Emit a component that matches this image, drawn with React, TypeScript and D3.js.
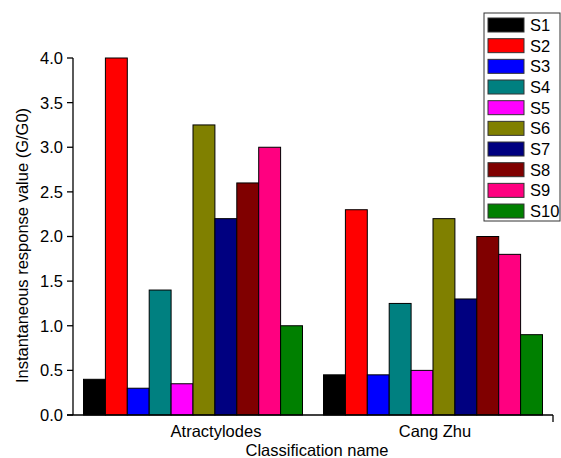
import React from "react";
import * as d3 from "d3";

const categories = ["Atractylodes", "Cang Zhu"];
const seriesNames = ["S1", "S2", "S3", "S4", "S5", "S6", "S7", "S8", "S9", "S10"];
const seriesColors = ["#000000", "#FF0000", "#0000FF", "#008080", "#FF00FF", "#808000", "#000080", "#800000", "#FF0080", "#008000"];
const atractylodesValues = [0.4, 4.0, 0.3, 1.4, 0.35, 3.25, 2.2, 2.6, 3.0, 1.0];
const cangZhuValues = [0.45, 2.3, 0.45, 1.25, 0.5, 2.2, 1.3, 2.0, 1.8, 0.9];
const yTicks = [0, 0.5, 1, 1.5, 2, 2.5, 3, 3.5, 4];
const yTitle = "Instantaneous response value (G/G0)";
const xTitle = "Classification name";

const valuesByCategory = [atractylodesValues, cangZhuValues];
const FONT = "'Liberation Sans', Arial, sans-serif";

export default function App() {
  const W = 561, H = 458;
  const left = 73, right = 553, top = 58, bottom = 415;
  const x0 = d3.scaleBand<string>().domain(categories).range([left, right]).paddingInner(0).paddingOuter(0);
  const groupW = x0.bandwidth() * 0.9125;
  const x1 = d3.scaleBand<string>().domain(seriesNames).range([0, groupW]).padding(0);
  const y = d3.scaleLinear().domain([0, 4]).range([bottom, top]);
  const labelOffsets = [23, 2];

  return (
    <svg width={W} height={H} style={{ position: "absolute", left: 0, top: 0 }} fontFamily={FONT}>
      <rect width={W} height={H} fill="#fff" />
      {categories.map((c, ci) => {
        const gx = x0(c)! + (x0.bandwidth() - groupW) / 2;
        return (
          <g key={c}>
            {seriesNames.map((s, si) => {
              const v = valuesByCategory[ci][si];
              return (
                <rect key={s} x={gx + x1(s)!} y={y(v)} width={x1.bandwidth()} height={y(0) - y(v)}
                  fill={seriesColors[si]} stroke="#000" strokeWidth={1} />
              );
            })}
            <text x={x0(c)! + x0.bandwidth() / 2 + labelOffsets[ci]} y={437} fontSize={16.5} textAnchor="middle" fill="#000">{c}</text>
          </g>
        );
      })}
      {/* axes */}
      <line x1={left} x2={left} y1={top} y2={bottom} stroke="#000" strokeWidth={1.3} />
      <line x1={left - 6} x2={right} y1={bottom} y2={bottom} stroke="#000" strokeWidth={1.3} />
      <line x1={right} x2={right} y1={bottom} y2={bottom + 7} stroke="#000" strokeWidth={1.3} />
      {yTicks.map((t) => (
        <g key={t}>
          <line x1={left - 6} x2={left} y1={y(t)} y2={y(t)} stroke="#000" strokeWidth={1.3} />
          <text x={left - 10} y={y(t)} dy="0.36em" fontSize={16.5} textAnchor="end" fill="#000">{t.toFixed(1)}</text>
        </g>
      ))}
      <text transform={`translate(28,${(top + bottom) / 2 + 9}) rotate(-90)`} fontSize={16.5} textAnchor="middle" fill="#000">{yTitle}</text>
      <text x={317} y={456} fontSize={16.5} textAnchor="middle" fill="#000">{xTitle}</text>
      {/* legend */}
      <rect x={484} y={13} width={76} height={208} fill="#fff" stroke="#333" strokeWidth={1} />
      {seriesNames.map((s, i) => {
        const cy = 25 + i * 20.67;
        return (
          <g key={s}>
            <rect x={488} y={cy - 7} width={36} height={14} fill={seriesColors[i]} stroke="#333" strokeWidth={1} />
            <text x={530} y={cy} dy="0.36em" fontSize={16.5} fill="#000">{s}</text>
          </g>
        );
      })}
    </svg>
  );
}
